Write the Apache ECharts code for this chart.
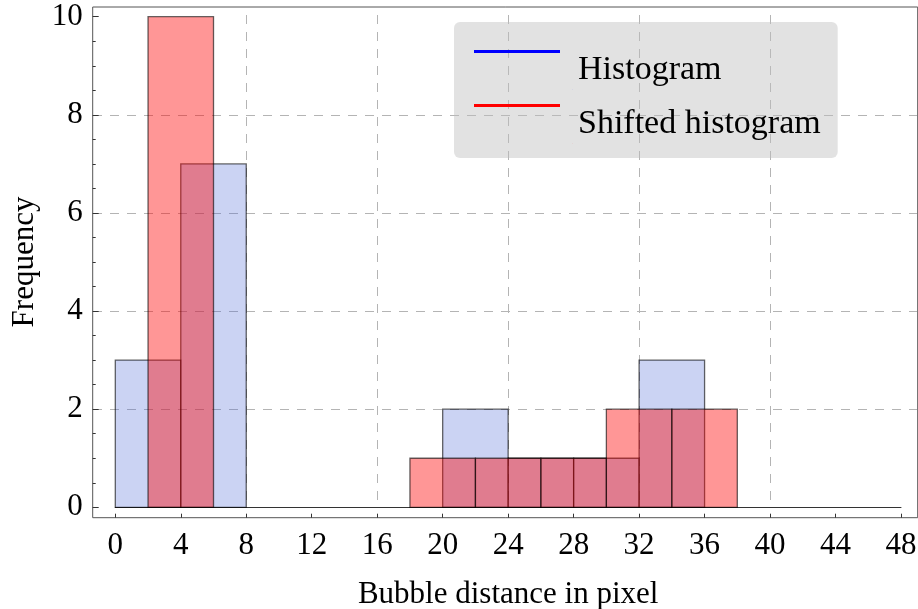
<!DOCTYPE html>
<html>
<head>
<meta charset="utf-8">
<script src="https://cdn.jsdelivr.net/npm/echarts@6/dist/echarts.min.js"></script>
<style>
html,body{margin:0;padding:0;background:#fff;}
#chart{width:918px;height:609px;}
</style>
</head>
<body>
<div id="chart"></div>
<script>
// ---- data ----
const binWidth = 4;
const histStarts = [0, 4, 20, 24, 28, 32];
const histCounts = [3, 7, 2, 1, 1, 3];
const shiftedStarts = [2, 18, 22, 26, 30, 34];
const shiftedCounts = [10, 1, 1, 1, 2, 2];
const seriesNames = ['Histogram', 'Shifted histogram'];
const xLabel = 'Bubble distance in pixel';
const yLabel = 'Frequency';

const FONT = "'Liberation Serif', 'Times New Roman', serif";

function bins(starts, counts) {
  return starts.map((s, i) => [s, s + binWidth, counts[i]]);
}

function makeRender(fill) {
  return function (params, api) {
    const p0 = api.coord([api.value(0), api.value(2)]);
    const p1 = api.coord([api.value(1), 0]);
    return {
      type: 'rect',
      shape: { x: p0[0], y: p0[1], width: p1[0] - p0[0], height: p1[1] - p0[1] },
      style: { fill: fill, stroke: 'rgba(0,0,0,0.6)', lineWidth: 1.3 }
    };
  };
}

const chart = echarts.init(document.getElementById('chart'), null, { renderer: 'canvas' });

const dash = { type: [9, 8], color: '#b4b4b4', width: 1 };
const tickColor = '#333';
const G = { outerBoundsMode: 'none', containLabel: false };

chart.setOption({
  animation: false,
  backgroundColor: '#fff',
  grid: [
    Object.assign({ left: 115.3, right: 17, top: 16.7, bottom: 101.7 }, G),            // 0 data
    Object.assign({ left: 92.7, right: 0.3, top: 7, bottom: 91.3, show: true, borderColor: '#555', borderWidth: 1, backgroundColor: 'transparent' }, G), // 1 frame
    Object.assign({ left: 93, right: 1, top: 114.8, bottom: 199.8 }, G),                // 2 horizontal dashed
    Object.assign({ left: 246.3, right: 147.9, top: 15, bottom: 101.7 }, G),            // 3 vertical dashed
    Object.assign({ left: 92.7, right: 17, top: 16.7, bottom: 101.7 }, G),              // 4 y-axis on frame
    Object.assign({ left: 115.3, right: 17, top: 16.7, bottom: 91.3 }, G)               // 5 x-axis on frame
  ],
  xAxis: [
    { gridIndex: 0, type: 'value', min: 0, max: 48, interval: 8, position: 'bottom',
      axisLine: { show: true, onZero: false, lineStyle: { color: '#333', width: 1 } },
      axisTick: { show: false }, axisLabel: { show: false }, splitLine: { show: false } },
    { gridIndex: 1, type: 'value', min: 0, max: 1, show: false },
    { gridIndex: 2, type: 'value', min: 0, max: 1, show: false },
    { gridIndex: 3, type: 'value', min: 8, max: 40, interval: 8,
      axisLine: { show: false }, axisTick: { show: false }, axisLabel: { show: false },
      splitLine: { show: true, lineStyle: dash } },
    { gridIndex: 4, type: 'value', min: 0, max: 1, show: false },
    { gridIndex: 5, type: 'value', min: 0, max: 48, interval: 4, position: 'bottom',
      axisLine: { show: false },
      axisTick: { show: true, inside: true, length: 4, lineStyle: { color: tickColor } },
      splitLine: { show: false },
      axisLabel: { margin: 13, fontFamily: FONT, fontSize: 31, color: '#000' },
      name: xLabel, nameLocation: 'middle', nameGap: 62,
      nameTextStyle: { fontFamily: FONT, fontSize: 31, color: '#000' } }
  ],
  yAxis: [
    { gridIndex: 0, type: 'value', min: 0, max: 10, show: false },
    { gridIndex: 1, type: 'value', min: 0, max: 1, show: false },
    { gridIndex: 2, type: 'value', min: 2, max: 8, interval: 2,
      axisLine: { show: false }, axisTick: { show: false }, axisLabel: { show: false },
      splitLine: { show: true, lineStyle: dash } },
    { gridIndex: 3, type: 'value', min: 0, max: 1, show: false },
    { gridIndex: 4, type: 'value', min: 0, max: 10, interval: 2, position: 'left',
      axisLine: { show: false },
      axisTick: { show: true, inside: true, length: 6, lineStyle: { color: tickColor } },
      minorTick: { show: true, splitNumber: 4, length: 3, lineStyle: { color: tickColor } },
      splitLine: { show: false },
      axisLabel: { margin: 10, fontFamily: FONT, fontSize: 31, color: '#000' },
      name: yLabel, nameLocation: 'middle', nameGap: 52,
      nameTextStyle: { fontFamily: FONT, fontSize: 31, color: '#000' } },
    { gridIndex: 5, type: 'value', min: 0, max: 1, show: false }
  ],
  legend: {
    orient: 'vertical',
    left: 454, top: 22,
    padding: [28, 17, 14, 20],
    itemGap: 14,
    itemWidth: 99, itemHeight: 40,
    backgroundColor: 'rgba(190,190,190,0.45)',
    borderRadius: 6,
    icon: 'path://M0,0H86V3H0Z M98.8,40H99V39.8H98.8Z',
    itemStyle: { borderWidth: 0 },
    textStyle: { fontFamily: FONT, fontSize: 34, color: '#000' },
    selectedMode: false,
    data: [
      { name: seriesNames[0], itemStyle: { color: '#0000ff', borderWidth: 0 } },
      { name: seriesNames[1], itemStyle: { color: '#ff0000', borderWidth: 0 } }
    ]
  },
  series: [
    { name: seriesNames[0], type: 'custom', xAxisIndex: 0, yAxisIndex: 0,
      renderItem: makeRender('rgba(82,108,215,0.3)'),
      encode: { x: [0, 1], y: 2 },
      itemStyle: { color: 'rgba(82,108,215,0.3)' },
      data: bins(histStarts, histCounts) },
    { name: seriesNames[1], type: 'custom', xAxisIndex: 0, yAxisIndex: 0,
      renderItem: makeRender('rgba(255,0,0,0.41)'),
      encode: { x: [0, 1], y: 2 },
      itemStyle: { color: 'rgba(255,0,0,0.41)' },
      data: bins(shiftedStarts, shiftedCounts) }
  ]
});
</script>
</body>
</html>
